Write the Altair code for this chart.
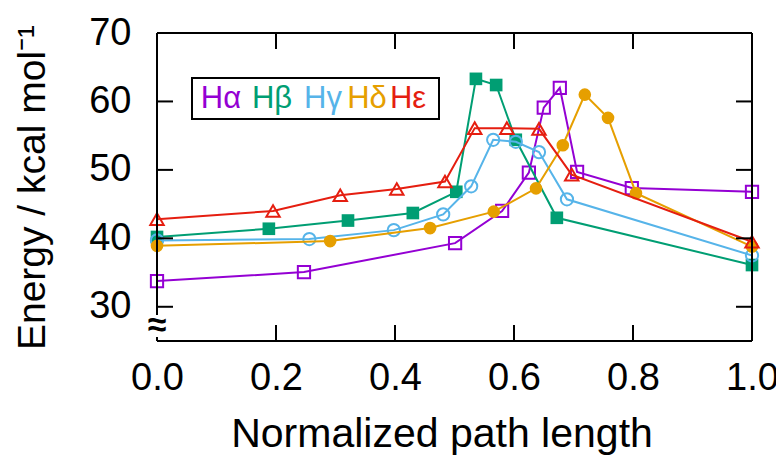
import altair as alt
import pandas as pd

# ---- data ----
series_names = ["Hα", "Hβ", "Hγ", "Hδ", "Hε"]
series_colors = ["#9400d3", "#009e73", "#56b4e9", "#e69f00", "#e51e10"]
series_shapes = ["square", "square", "circle", "circle", "triangle-up"]
series_filled = [False, True, False, True, False]

x_alpha = [0.0, 0.247, 0.501, 0.580, 0.625, 0.650, 0.677, 0.706, 0.798, 1.0]
y_alpha = [33.75, 35.07, 39.3, 44.0, 49.6, 59.1, 62.0, 49.7, 47.35, 46.8]

x_beta = [0.0, 0.188, 0.321, 0.430, 0.503, 0.536, 0.570, 0.603, 0.672, 1.0]
y_beta = [40.2, 41.4, 42.6, 43.7, 46.8, 63.3, 62.4, 54.4, 43.0, 36.1]

x_gamma = [0.0, 0.256, 0.398, 0.481, 0.528, 0.565, 0.603, 0.642, 0.689, 1.0]
y_gamma = [39.7, 39.9, 41.2, 43.5, 47.6, 54.4, 54.1, 52.6, 45.7, 37.5]

x_delta = [0.0, 0.291, 0.459, 0.566, 0.637, 0.682, 0.719, 0.758, 0.805, 1.0]
y_delta = [38.9, 39.6, 41.5, 43.9, 47.3, 53.6, 61.0, 57.6, 46.6, 38.8]

x_eps = [0.0, 0.195, 0.308, 0.403, 0.484, 0.534, 0.588, 0.642, 0.697, 1.0]
y_eps = [42.8, 44.0, 46.3, 47.2, 48.3, 56.1, 56.1, 56.0, 49.3, 39.5]

x_label_values = [0.0, 0.2, 0.4, 0.6, 0.8, 1.0]
y_label_values = [30, 40, 50, 60, 70]
x_tick_values = [0.2, 0.4, 0.6, 0.8]
y_tick_values = [30, 40, 50, 60]

x_title = "Normalized path length"
y_title = "Energy / kcal mol⁻¹"

# ---- build ----
W, H = 595, 308
FONT = "Liberation Sans"
TICK = 16

xs_all = [x_alpha, x_beta, x_gamma, x_delta, x_eps]
ys_all = [y_alpha, y_beta, y_gamma, y_delta, y_eps]
rows = []
for name, xs, ys in zip(series_names, xs_all, ys_all):
    for xv, yv in zip(xs, ys):
        rows.append({"series": name, "x": xv, "y": yv})
df = pd.DataFrame(rows)

x_scale = alt.Scale(domain=[0, 1], nice=False, zero=False)
y_scale = alt.Scale(domain=[25, 70], nice=False, zero=False)

x_axis = alt.Axis(values=x_label_values, format=".1f", ticks=False, domain=False,
                  grid=False, labelFontSize=38, labelPadding=18,
                  title=x_title, titleFontSize=41, titleFontWeight="normal",
                  titlePadding=17, titleX=W / 2 - 13, labelFlush=False)
y_axis = alt.Axis(values=y_label_values, format="d", ticks=False, domain=False,
                  grid=False, labelFontSize=38, labelPadding=26,
                  title=y_title, titleFontSize=39, titleFontWeight="normal",
                  titlePadding=36)

one = pd.DataFrame({"k": [0]})

layers = []

# series: lines then markers, in drawing order
for name, color, shape, filled in zip(series_names, series_colors, series_shapes, series_filled):
    sub = alt.Chart(df).transform_filter(alt.datum.series == name)
    line = sub.mark_line(color=color, strokeWidth=2).encode(
        x=alt.X("x:Q", scale=x_scale, axis=x_axis),
        y=alt.Y("y:Q", scale=y_scale, axis=y_axis),
        order="x:Q",
    )
    size = 180 if shape == "triangle-up" else (160 if filled else 150)
    pts = sub.mark_point(shape=shape, filled=filled, color=color, size=size,
                         strokeWidth=2, opacity=1).encode(
        x=alt.X("x:Q", scale=x_scale, axis=x_axis),
        y=alt.Y("y:Q", scale=y_scale, axis=y_axis),
    )
    layers += [line, pts]

# frame
frame_top = alt.Chart(one).mark_rule(color="black", strokeWidth=2).encode(
    x=alt.value(0), x2=alt.value(W), y=alt.value(0))
frame_bottom = alt.Chart(one).mark_rule(color="black", strokeWidth=2).encode(
    x=alt.value(0), x2=alt.value(W), y=alt.value(H))
frame_left = alt.Chart(one).mark_rule(color="black", strokeWidth=2).encode(
    x=alt.value(0), y=alt.value(0), y2=alt.value(H))
frame_right = alt.Chart(one).mark_rule(color="black", strokeWidth=2).encode(
    x=alt.value(W), y=alt.value(0), y2=alt.value(H))

# inward ticks
tx = pd.DataFrame({"v": x_tick_values})
ty = pd.DataFrame({"v": y_tick_values})
ticks_bottom = alt.Chart(tx).mark_rule(color="black", strokeWidth=2).encode(
    x=alt.X("v:Q", scale=x_scale, axis=x_axis), y=alt.value(H - TICK), y2=alt.value(H))
ticks_top = alt.Chart(tx).mark_rule(color="black", strokeWidth=2).encode(
    x=alt.X("v:Q", scale=x_scale, axis=x_axis), y=alt.value(0), y2=alt.value(TICK))
ticks_left = alt.Chart(ty).mark_rule(color="black", strokeWidth=2).encode(
    y=alt.Y("v:Q", scale=y_scale, axis=y_axis), x=alt.value(0), x2=alt.value(TICK))
ticks_right = alt.Chart(ty).mark_rule(color="black", strokeWidth=2).encode(
    y=alt.Y("v:Q", scale=y_scale, axis=y_axis), x=alt.value(W - TICK), x2=alt.value(W))

# axis break symbol
brk_bg = alt.Chart(one).mark_rect(color="white").encode(
    x=alt.value(-4), x2=alt.value(4), y=alt.value(282), y2=alt.value(304))
brk = alt.Chart(one).mark_text(text="≈", font=FONT, fontSize=34, fontWeight="bold",
                               color="black", align="center", baseline="middle").encode(
    x=alt.value(0), y=alt.value(293))

# legend box with coloured labels
legend_box = alt.Chart(one).mark_rect(fill="white", stroke="black", strokeWidth=2).encode(
    x=alt.value(35), x2=alt.value(282), y=alt.value(45), y2=alt.value(86))
legend_cx = [64, 115, 166, 210, 251]
legend_texts = []
for name, color, lx in zip(series_names, series_colors, legend_cx):
    legend_texts.append(
        alt.Chart(one).mark_text(text=name, font=FONT, fontSize=31, color=color,
                                 align="center", baseline="middle").encode(
            x=alt.value(lx), y=alt.value(66)))

chart = alt.layer(
    *layers,
    frame_top, frame_bottom, frame_left, frame_right,
    ticks_bottom, ticks_top, ticks_left, ticks_right,
    brk_bg, brk,
    legend_box, *legend_texts,
).properties(
    width=W, height=H,
    autosize=alt.AutoSizeParams(type="none"),
    padding={"left": 149, "top": 25, "right": 24, "bottom": 117},
).configure_view(stroke=None).configure_axis(
    labelFont=FONT, titleFont=FONT, labelColor="black", titleColor="black"
)

chart.save("out.html", embed_options={"renderer": "svg", "actions": False})
